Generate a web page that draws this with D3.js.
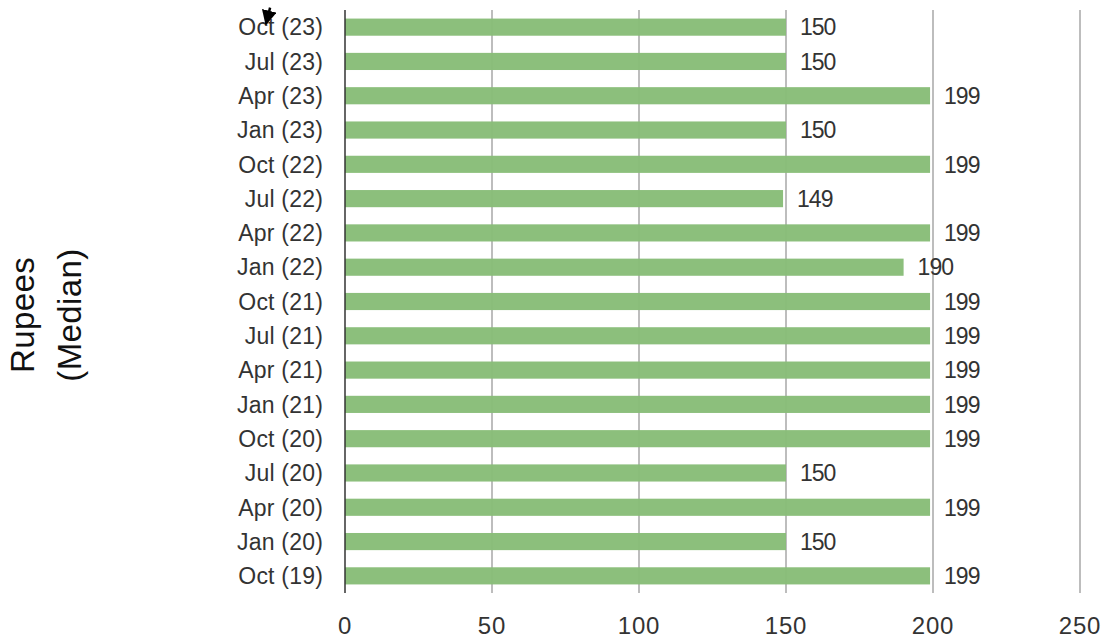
<!DOCTYPE html>
<html>
<head>
<meta charset="utf-8">
<script src="https://cdn.jsdelivr.net/npm/d3@7"></script>
<style>
  body { margin: 0; background: #fff; }
  text { font-family: "Liberation Sans", Arial, sans-serif; }
</style>
</head>
<body>
<div id="chart"></div>
<script>
// Data (top to bottom as drawn)
const quarters = ["Oct (23)", "Jul (23)", "Apr (23)", "Jan (23)", "Oct (22)", "Jul (22)",
                  "Apr (22)", "Jan (22)", "Oct (21)", "Jul (21)", "Apr (21)", "Jan (21)",
                  "Oct (20)", "Jul (20)", "Apr (20)", "Jan (20)", "Oct (19)"];
const rupees = [150, 150, 199, 150, 199, 149, 199, 190, 199, 199, 199, 199, 199, 150, 199, 150, 199];
const xTicks = [0, 50, 100, 150, 200, 250];

const data = quarters.map((q, i) => ({ quarter: q, value: rupees[i] }));

const width = 1105, height = 639;
const svg = d3.select("#chart").append("svg")
    .attr("width", width)
    .attr("height", height);

// Scales
const x = d3.scaleLinear().domain([0, 250]).range([345, 1080]);
const y = d3.scaleBand()
    .domain(quarters)
    .range([10, 593])
    .paddingInner(0.5)
    .paddingOuter(0.25);

// Gridlines
svg.append("g")
   .selectAll("line")
   .data(xTicks.filter(d => d > 0))
   .enter()
   .append("line")
   .attr("x1", d => x(d)).attr("x2", d => x(d))
   .attr("y1", 10).attr("y2", 593)
   .attr("stroke", "#9a9a9a")
   .attr("stroke-width", 1.3);

// Bars
svg.selectAll(".bar")
   .data(data)
   .enter()
   .append("rect")
   .attr("class", "bar")
   .attr("x", x(0))
   .attr("y", d => y(d.quarter))
   .attr("width", d => x(d.value) - x(0))
   .attr("height", y.bandwidth())
   .style("fill", "#88bd78")
   .style("opacity", 0.97);

// Zero axis line
svg.append("line")
   .attr("x1", x(0)).attr("x2", x(0))
   .attr("y1", 10).attr("y2", 593)
   .attr("stroke", "#333")
   .attr("stroke-width", 1.5);

// Value labels
svg.selectAll(".val")
   .data(data)
   .enter()
   .append("text")
   .attr("class", "val")
   .attr("x", d => x(d.value) + 14)
   .attr("y", d => y(d.quarter) + y.bandwidth() / 2)
   .attr("dy", "0.36em")
   .attr("fill", "#333")
   .style("font-size", "23px")
   .style("letter-spacing", "-1px")
   .text(d => d.value);

// Category labels
svg.selectAll(".cat")
   .data(data)
   .enter()
   .append("text")
   .attr("class", "cat")
   .attr("x", 323)
   .attr("y", d => y(d.quarter) + y.bandwidth() / 2)
   .attr("dy", "0.36em")
   .attr("text-anchor", "end")
   .attr("fill", "#333")
   .style("font-size", "23px")
   .style("letter-spacing", "0.2px")
   .text(d => d.quarter);

// X tick labels
svg.selectAll(".xtick")
   .data(xTicks)
   .enter()
   .append("text")
   .attr("class", "xtick")
   .attr("x", d => x(d))
   .attr("y", 634)
   .attr("text-anchor", "middle")
   .attr("fill", "#333")
   .style("font-size", "24px")
   .style("letter-spacing", "0.8px")
   .text(d => d);

// Y title
const title = svg.append("text")
   .attr("transform", "translate(0,315) rotate(-90)")
   .attr("text-anchor", "middle")
   .attr("fill", "#111")
   .style("font-size", "33px")
   .style("letter-spacing", "0.4px");
title.append("tspan").attr("x", 0).attr("y", 34).text("Rupees");
title.append("tspan").attr("x", 0).attr("y", 81).text("(Median)");

// Annotation arrow
svg.append("defs").append("marker")
   .attr("id", "arrow")
   .attr("viewBox", "0 0 10 10")
   .attr("refX", 9).attr("refY", 5)
   .attr("markerWidth", 6).attr("markerHeight", 6)
   .attr("orient", "auto")
   .append("path")
   .attr("d", "M0,0 L10,5 L0,10 z")
   .attr("fill", "#000");

svg.append("line")
   .attr("x1", 273).attr("y1", -4)
   .attr("x2", 266).attr("y2", 24)
   .attr("stroke", "#000")
   .attr("stroke-width", 2.5)
   .attr("stroke-dasharray", "3,9,30")
   .attr("marker-end", "url(#arrow)");
</script>
</body>
</html>
